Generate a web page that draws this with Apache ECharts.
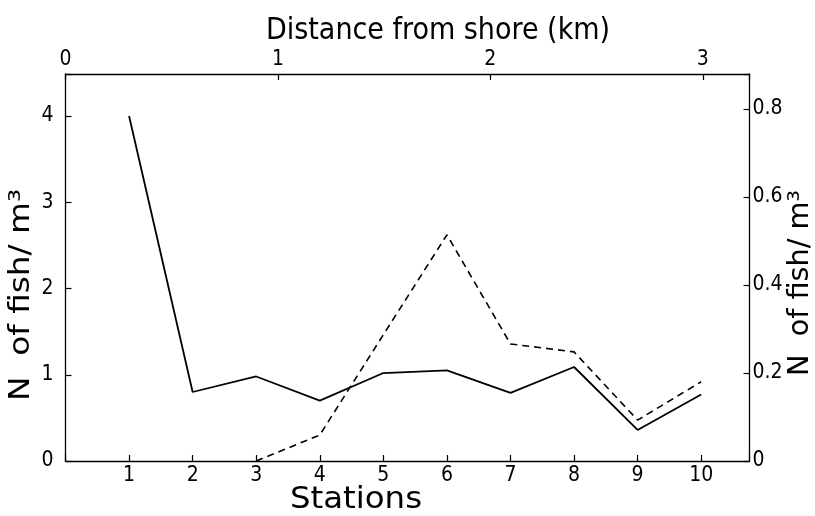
<!DOCTYPE html>
<html>
<head>
<meta charset="utf-8">
<script src="https://cdn.jsdelivr.net/npm/echarts@6/dist/echarts.min.js"></script>
<style>
html,body{margin:0;padding:0;background:#fff;}
#c{width:815px;height:516px;}
</style>
</head>
<body>
<div id="c"></div>
<script>
// ---- data ----
const stations = [1, 2, 3, 4, 5, 6, 7, 8, 9, 10];
const fishSolid = [4.0, 0.80, 0.98, 0.70, 1.02, 1.05, 0.79, 1.09, 0.36, 0.77];       // left axis
const fishDashed = [null, null, 0.0, 0.059, 0.287, 0.514, 0.266, 0.248, 0.093, 0.18]; // right axis
const distanceTicks = [0, 1, 2, 3];
const leftTicks = [0, 1, 2, 3, 4];
const rightTicks = [0, 0.2, 0.4, 0.6, 0.8];

const topTitle = 'Distance from shore (km)';
const bottomTitle = 'Stations';
const yTitle = 'N  of fish/ m³';

const FONT = '"DejaVu Sans Condensed", "DejaVu Sans", sans-serif';
const chart = echarts.init(document.getElementById('c'), null, {renderer: 'canvas'});

const axisLine = {show: true, onZero: false, lineStyle: {color: '#000', width: 1.3}};
const axisTick = {show: true, inside: true, length: 6, lineStyle: {color: '#000', width: 1.2}};

chart.setOption({
  backgroundColor: '#fff',
  animation: false,
  grid: {left: 65.5, right: 65.5, top: 74, bottom: 55, containLabel: false},
  xAxis: [
    {
      type: 'value', position: 'bottom', min: 0, max: 10.76, interval: 1,
      axisLine: axisLine, axisTick: axisTick, splitLine: {show: false},
      axisLabel: {
        color: '#000', fontFamily: FONT, fontSize: 21, margin: 4,
        formatter: v => (stations.indexOf(v) >= 0 ? String(v) : '')
      }
    },
    {
      type: 'value', position: 'top', min: 0, max: 3.22, interval: 1,
      axisLine: axisLine, axisTick: axisTick, splitLine: {show: false},
      axisLabel: {
        color: '#000', fontFamily: FONT, fontSize: 21, margin: 4,
        formatter: v => (distanceTicks.indexOf(v) >= 0 ? String(v) : '')
      }
    }
  ],
  yAxis: [
    {
      type: 'value', position: 'left', min: 0, max: 4.487, interval: 1,
      axisLine: axisLine, axisTick: axisTick, splitLine: {show: false},
      axisLabel: {
        color: '#000', fontFamily: FONT, fontSize: 21, margin: 12,
        formatter: v => (leftTicks.indexOf(v) >= 0 ? String(v) : '')
      }
    },
    {
      type: 'value', position: 'right', min: 0, max: 0.8795, interval: 0.2,
      axisLine: axisLine, axisTick: axisTick, splitLine: {show: false},
      axisLabel: {
        color: '#000', fontFamily: FONT, fontSize: 21, margin: 3,
        formatter: v => {
          const r = Math.round(v * 10) / 10;
          return rightTicks.indexOf(r) >= 0 ? String(r) : '';
        }
      }
    }
  ],
  series: [
    {
      type: 'line', xAxisIndex: 0, yAxisIndex: 0,
      data: stations.map((s, i) => [s, fishSolid[i]]),
      symbol: 'none', lineStyle: {color: '#000', width: 1.8}
    },
    {
      type: 'line', xAxisIndex: 0, yAxisIndex: 1,
      data: stations.map((s, i) => [s, fishDashed[i]]),
      symbol: 'none', connectNulls: false,
      lineStyle: {color: '#000', width: 1.6, type: [7, 5]}
    }
  ],
  graphic: [
    {type: 'text', x: 438, y: 31, style: {text: topTitle, fill: '#000', font: '30px ' + FONT, textAlign: 'center', textVerticalAlign: 'middle'}},
    {type: 'text', x: 356, y: 500, scaleX: 1.2, style: {text: bottomTitle, fill: '#000', font: '30px ' + FONT, textAlign: 'center', textVerticalAlign: 'middle'}},
    {type: 'text', x: 22, y: 295, rotation: Math.PI / 2, scaleX: 1.3, style: {text: yTitle, fill: '#000', font: '28px ' + FONT, textAlign: 'center', textVerticalAlign: 'middle'}},
    {type: 'text', x: 801, y: 283, rotation: Math.PI / 2, scaleX: 1.14, style: {text: yTitle, fill: '#000', font: '28px ' + FONT, textAlign: 'center', textVerticalAlign: 'middle'}}
  ]
});
</script>
</body>
</html>
